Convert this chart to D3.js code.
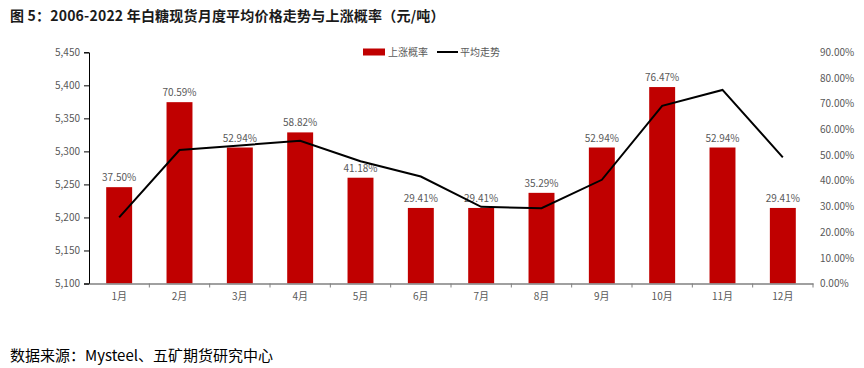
<!DOCTYPE html>
<html><head><meta charset="utf-8">
<script src="https://cdn.jsdelivr.net/npm/d3@7"></script>
<style>body{margin:0;background:#fff;}svg{display:block;}</style>
</head><body>
<svg id="c" width="864" height="368"></svg>
<script>
const months = ["1月","2月","3月","4月","5月","6月","7月","8月","9月","10月","11月","12月"];
const riseProb = [37.50,70.59,52.94,58.82,41.18,29.41,29.41,35.29,52.94,76.47,52.94,29.41];
const avgPrice = [5200,5302,5309,5316,5285,5262,5216,5214,5257,5369,5393,5291];
const leftTicks = [5100,5150,5200,5250,5300,5350,5400,5450];
const rightTicks = [0,10,20,30,40,50,60,70,80,90];
const title = "图 5：2006-2022 年白糖现货月度平均价格走势与上涨概率（元/吨）";
const source = "数据来源：Mysteel、五矿期货研究中心";

const svg = d3.select("#c");
const L = 89, R = 813, T = 52.3, B = 283.5;
const font = "'Noto Sans CJK SC','Noto Sans',sans-serif";
const gray = "#595959";

const x = d3.scaleBand().domain(months).range([L, R]).paddingInner(0.57).paddingOuter(0.285);
const xb = d3.scaleBand().domain(months).range([L, R]);
const yL = d3.scaleLinear().domain([5100,5450]).range([B, T]);
const yR = d3.scaleLinear().domain([0,90]).range([B, T]);

// title
svg.append("text").attr("x",10).attr("y",21).text(title)
  .attr("font-family",font).attr("font-weight","bold").attr("font-size",14).attr("fill","#1a1a1a")
  .attr("letter-spacing",0.2);
// source
svg.append("text").attr("x",10).attr("y",361).text(source)
  .attr("font-family","'Noto Sans CJK SC','DejaVu Sans Mono',monospace").attr("font-size",15).attr("fill","#000");

// bars
svg.append("g").selectAll("rect").data(riseProb).join("rect")
  .attr("x",(d,i)=>x(months[i])).attr("width",x.bandwidth())
  .attr("y",d=>yR(d)).attr("height",d=>B-yR(d)).attr("fill","#C00000");
// bar labels
svg.append("g").selectAll("text").data(riseProb).join("text")
  .attr("x",(d,i)=>x(months[i])+x.bandwidth()/2).attr("y",d=>yR(d)-6)
  .attr("text-anchor","middle").attr("font-family",font).attr("font-size",10).attr("fill",gray)
  .text(d=>d.toFixed(2)+"%");

// line
const line = d3.line().x((d,i)=>xb(months[i])+xb.bandwidth()/2).y(d=>yL(d));
svg.append("path").datum(avgPrice).attr("d",line).attr("fill","none").attr("stroke","#000").attr("stroke-width",2);

// left axis
const gl = svg.append("g").attr("transform",`translate(${L},0)`)
  .call(d3.axisLeft(yL).tickValues(leftTicks).tickSize(5).tickFormat(d3.format(",")));
gl.select(".domain").attr("stroke","#000");
gl.selectAll(".tick line").attr("stroke","#000");
gl.selectAll("text").attr("font-family",font).attr("font-size",10).attr("fill",gray).attr("x",-9);

// right axis (labels only)
const gr = svg.append("g").attr("transform",`translate(${R},0)`)
  .call(d3.axisRight(yR).tickValues(rightTicks).tickSize(0).tickFormat(d=>d.toFixed(2)+"%"));
gr.select(".domain").remove();
gr.selectAll("text").attr("font-family",font).attr("font-size",10).attr("fill",gray).attr("x",7);

// x axis
const gx = svg.append("g").attr("transform",`translate(0,${B})`)
  .call(d3.axisBottom(xb).tickSize(0).tickSizeOuter(0));
gx.select(".domain").attr("stroke","#808080").attr("stroke-width",1.5);
gx.selectAll("text").attr("font-family",font).attr("font-size",10).attr("fill",gray).attr("dy","1.3em");
// category boundary ticks
svg.append("g").selectAll("line").data(months.slice(1).concat(["end"])).join("line")
  .attr("x1",(d,i)=>xb(months[i])+xb.bandwidth()).attr("x2",(d,i)=>xb(months[i])+xb.bandwidth())
  .attr("y1",B).attr("y2",B+4).attr("stroke","#808080");

// legend
const lg = svg.append("g");
lg.append("rect").attr("x",363).attr("y",48.5).attr("width",22).attr("height",7).attr("fill","#C00000");
lg.append("text").attr("x",388).attr("y",55.5).text("上涨概率").attr("font-family",font).attr("font-size",10).attr("fill",gray);
lg.append("line").attr("x1",437).attr("x2",458).attr("y1",52).attr("y2",52).attr("stroke","#000").attr("stroke-width",2);
lg.append("text").attr("x",460).attr("y",55.5).text("平均走势").attr("font-family",font).attr("font-size",10).attr("fill",gray);
</script>
</body></html>
